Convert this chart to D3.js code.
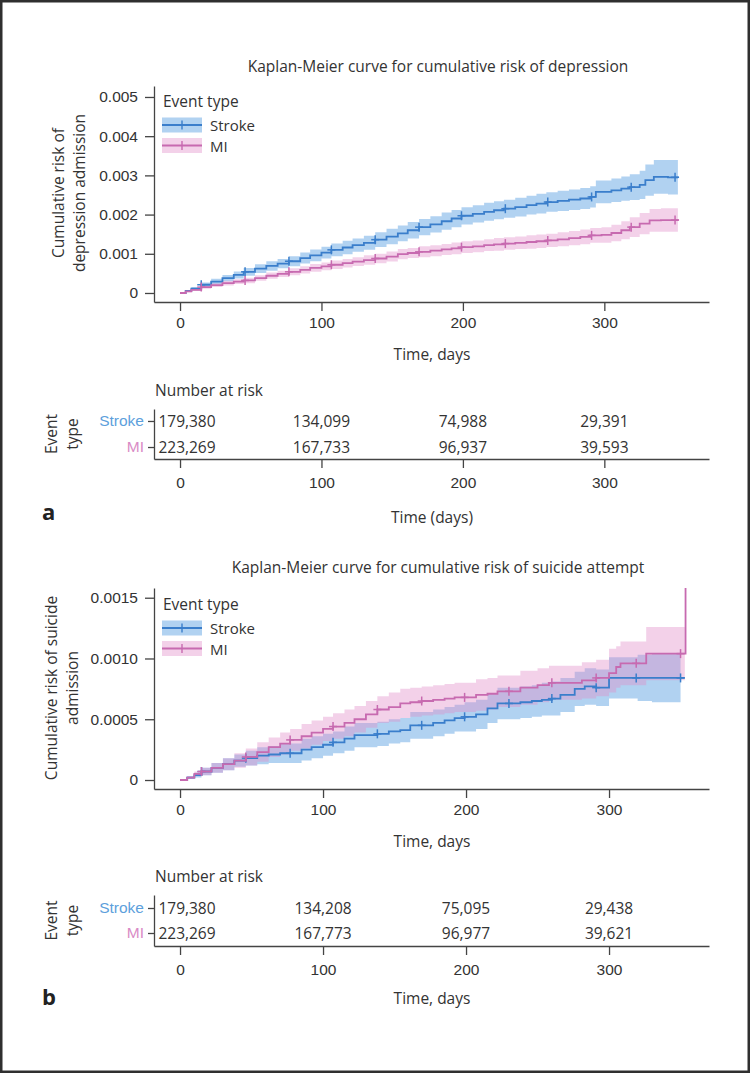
<!DOCTYPE html>
<html>
<head>
<meta charset="utf-8">
<script src="https://cdn.jsdelivr.net/npm/d3@7"></script>
<style>
  html, body { margin: 0; padding: 0; background: #fff; }
  svg { display: block; font-family: "Open Sans", "Noto Sans", sans-serif; }
</style>
</head>
<body>
<svg id="chart" width="750" height="1073"></svg>
<script>
// ---------------- DATA ----------------
// Each row: [day, cumulative risk, lower CI, upper CI]
const depStroke = [
  [0,0,0,0],[4,0.00005,0.00003,0.00007],[8,0.00011,0.00007,0.00015],[15,0.00021,0.00015,0.00027],[22,0.00029,0.00022,0.00036],
  [30,0.00038,0.00030,0.00046],[38,0.00046,0.00037,0.00055],[45,0.00054,0.00044,0.00064],[53,0.00062,0.00051,0.00073],
  [61,0.00069,0.00057,0.00081],[69,0.00075,0.00063,0.00087],[77,0.00081,0.00068,0.00094],[85,0.00089,0.00075,0.00103],
  [92,0.00096,0.00081,0.00111],[100,0.00103,0.00088,0.00118],[107,0.00110,0.00094,0.00126],[115,0.00116,0.00099,0.00133],
  [122,0.00122,0.00105,0.00139],[130,0.00128,0.00110,0.00146],[138,0.00136,0.00117,0.00155],[146,0.00144,0.00124,0.00164],
  [154,0.00152,0.00132,0.00172],[161,0.00160,0.00139,0.00181],[169,0.00168,0.00147,0.00189],[177,0.00175,0.00154,0.00196],
  [185,0.00183,0.00161,0.00205],[192,0.00190,0.00168,0.00212],[199,0.00197,0.00175,0.00219],[207,0.00202,0.00180,0.00224],
  [215,0.00207,0.00184,0.00230],[222,0.00211,0.00188,0.00234],[229,0.00215,0.00192,0.00238],[237,0.00219,0.00195,0.00243],
  [245,0.00224,0.00200,0.00248],[252,0.00228,0.00203,0.00253],[259,0.00232,0.00207,0.00257],[267,0.00235,0.00209,0.00261],
  [275,0.00238,0.00212,0.00264],[283,0.00241,0.00214,0.00268],[290,0.00245,0.00218,0.00272],[294,0.00258,0.00229,0.00287],
  [305,0.00262,0.00232,0.00292],[312,0.00266,0.00235,0.00297],[318,0.00270,0.00237,0.00303],[325,0.00276,0.00240,0.00312],
  [329,0.00288,0.00248,0.00328],[335,0.00296,0.00253,0.00339],[345,0.00295,0.00251,0.00339],[352,0.00293,0.00249,0.00337]
];
const depMI = [
  [0,0,0,0],[4,0.00004,0.00002,0.00006],[8,0.00008,0.00005,0.00011],[15,0.00015,0.00011,0.00019],[22,0.00020,0.00015,0.00025],
  [30,0.00025,0.00019,0.00031],[38,0.00029,0.00023,0.00035],[45,0.00032,0.00025,0.00039],[53,0.00038,0.00031,0.00045],
  [61,0.00044,0.00036,0.00052],[69,0.00049,0.00041,0.00057],[77,0.00054,0.00045,0.00063],[85,0.00059,0.00050,0.00068],
  [92,0.00064,0.00054,0.00074],[100,0.00068,0.00058,0.00078],[107,0.00072,0.00061,0.00083],[115,0.00076,0.00065,0.00087],
  [122,0.00080,0.00069,0.00091],[130,0.00084,0.00072,0.00096],[138,0.00088,0.00076,0.00100],[146,0.00093,0.00080,0.00106],
  [154,0.00099,0.00086,0.00112],[161,0.00102,0.00089,0.00115],[169,0.00105,0.00091,0.00119],[177,0.00108,0.00094,0.00122],
  [185,0.00111,0.00097,0.00125],[192,0.00114,0.00099,0.00129],[199,0.00117,0.00102,0.00132],[207,0.00119,0.00104,0.00134],
  [215,0.00122,0.00107,0.00137],[222,0.00124,0.00108,0.00140],[229,0.00126,0.00110,0.00142],[237,0.00128,0.00112,0.00144],
  [245,0.00130,0.00113,0.00147],[252,0.00132,0.00115,0.00149],[259,0.00134,0.00117,0.00151],[267,0.00137,0.00119,0.00155],
  [275,0.00140,0.00122,0.00158],[283,0.00143,0.00124,0.00162],[290,0.00147,0.00128,0.00166],[298,0.00148,0.00128,0.00168],
  [305,0.00153,0.00132,0.00174],[312,0.00160,0.00137,0.00183],[318,0.00168,0.00143,0.00193],[325,0.00177,0.00150,0.00204],
  [332,0.00185,0.00156,0.00214],[340,0.00186,0.00156,0.00216],[352,0.00185,0.00155,0.00215]
];
const suiStroke = [
  [0,0,0,0],[5,0.00002,0.00001,0.00003],[10,0.00004,0.00002,0.00006],[15,0.00007,0.00004,0.00010],
  [22,0.00010,0.00006,0.00014],[30,0.00013,0.00008,0.00018],[38,0.00016,0.00011,0.00021],[46,0.00018,0.00012,0.00024],
  [54,0.00020,0.00013,0.00027],[62,0.00021,0.00014,0.00028],[70,0.00022,0.00014,0.00030],[77,0.00022,0.00014,0.00030],
  [85,0.00025,0.00016,0.00034],[92,0.00027,0.00018,0.00036],[100,0.00029,0.00020,0.00038],[107,0.00031,0.00022,0.00040],
  [115,0.00034,0.00024,0.00044],[122,0.00037,0.00027,0.00047],[130,0.00037,0.00027,0.00047],[138,0.00038,0.00028,0.00048],
  [146,0.00040,0.00030,0.00050],[154,0.00041,0.00031,0.00051],[161,0.00045,0.00034,0.00056],[169,0.00045,0.00034,0.00056],
  [177,0.00047,0.00036,0.00058],[185,0.00049,0.00038,0.00060],[192,0.00051,0.00040,0.00062],[199,0.00052,0.00040,0.00064],
  [207,0.00054,0.00042,0.00066],[215,0.00059,0.00047,0.00071],[222,0.00063,0.00050,0.00076],[230,0.00063,0.00050,0.00076],
  [238,0.00064,0.00051,0.00077],[246,0.00065,0.00052,0.00078],[253,0.00066,0.00053,0.00080],[260,0.00067,0.00053,0.00081],
  [266,0.00070,0.00056,0.00084],[276,0.00075,0.00061,0.00089],[283,0.00077,0.00062,0.00092],[291,0.00076,0.00061,0.00091],
  [300,0.00084,0.00067,0.00101],[320,0.00084,0.00065,0.00103],[330,0.00084,0.00064,0.00104],[350,0.00084,0.00064,0.00104],
  [353,0.00084,0.00064,0.00104]
];
const suiMI = [
  [0,0,0,0],[5,0.00002,0.00001,0.00003],[10,0.00005,0.00003,0.00007],[15,0.00007,0.00004,0.00010],
  [22,0.00010,0.00006,0.00014],[30,0.00013,0.00008,0.00018],[38,0.00016,0.00010,0.00022],[46,0.00019,0.00012,0.00026],
  [54,0.00023,0.00015,0.00031],[62,0.00027,0.00019,0.00035],[70,0.00030,0.00021,0.00039],[77,0.00033,0.00024,0.00042],
  [85,0.00036,0.00026,0.00046],[92,0.00039,0.00029,0.00049],[100,0.00042,0.00032,0.00052],[107,0.00044,0.00034,0.00055],
  [115,0.00047,0.00036,0.00058],[122,0.00050,0.00039,0.00061],[130,0.00054,0.00043,0.00065],[138,0.00058,0.00047,0.00069],
  [146,0.00060,0.00048,0.00072],[154,0.00063,0.00051,0.00075],[161,0.00064,0.00052,0.00076],[169,0.00065,0.00053,0.00077],
  [177,0.00066,0.00054,0.00078],[185,0.00067,0.00055,0.00079],[192,0.00068,0.00056,0.00080],[199,0.00068,0.00056,0.00080],
  [207,0.00070,0.00057,0.00083],[215,0.00071,0.00058,0.00084],[222,0.00073,0.00060,0.00086],[230,0.00073,0.00060,0.00086],
  [238,0.00076,0.00062,0.00090],[250,0.00078,0.00064,0.00092],[258,0.00080,0.00066,0.00094],[268,0.00080,0.00066,0.00094],
  [281,0.00082,0.00067,0.00097],[291,0.00084,0.00069,0.00099],[300,0.00088,0.00072,0.00108],[305,0.00093,0.00076,0.00110],
  [308,0.00096,0.00078,0.00114],[326,0.00104,0.00082,0.00126],[353,0.00104,0.00082,0.00126],[353.5,0.00158,0.00082,0.00126]
];
const censorDays = [15, 46, 77, 107, 138, 169, 199, 230, 260, 291, 319, 350];

const seriesNames = ["Stroke", "MI"];
const xTicks = [0, 100, 200, 300];
const yTicksA = [0, 0.001, 0.002, 0.003, 0.004, 0.005];
const yTicksB = [0, 0.0005, 0.0010, 0.0015];

const riskTimes = [0, 100, 200, 300];
const riskA_Stroke = [179380, 134099, 74988, 29391];
const riskA_MI = [223269, 167733, 96937, 39593];
const riskB_Stroke = [179380, 134208, 75095, 29438];
const riskB_MI = [223269, 167773, 96977, 39621];

// ---------------- STYLE ----------------
const TXT = "#333";
const AX = "#444";
const FS = 15.5;
const LEG_FS = 15;
const lineCol = { Stroke: "#3a7ecb", MI: "#c76ab0" };
const bandCol = { Stroke: "#3d8fdc", MI: "#e08cc8" };
const labelCol = { Stroke: "#5d9fdc", MI: "#d98bc6" };
const BAND_OP = 0.4;

const svg = d3.select("#chart");
svg.append("rect").attr("x", 0).attr("y", 0).attr("width", 750).attr("height", 1073).attr("fill", "#fff");
svg.append("rect").attr("x", 0).attr("y", 0).attr("width", 750).attr("height", 1073)
  .attr("fill", "none").attr("stroke", "#2f2f2f").attr("stroke-width", 5);

const fmtN = d3.format(",");

function styleAxis(g) {
  g.select(".domain").attr("stroke", AX).attr("stroke-width", 1.3);
  g.selectAll(".tick line").attr("stroke", AX).attr("stroke-width", 1.3);
  g.selectAll(".tick text").attr("fill", TXT).attr("font-size", FS).attr("font-family", null);
}

function stepValue(data, day) {
  let v = 0;
  for (const r of data) { if (r[0] <= day) v = r[1]; else break; }
  return v;
}

function drawKM(cfg) {
  const x = d3.scaleLinear().domain(cfg.xDom).range([154, 709]);
  const y = d3.scaleLinear().domain(cfg.yDom).range([cfg.yBottom, cfg.yTop]);
  const g = svg.append("g");

  g.append("text").attr("x", 438).attr("y", cfg.titleY).attr("text-anchor", "middle")
    .attr("font-size", FS).attr("fill", TXT).text(cfg.title);

  const area = d3.area().curve(d3.curveStepAfter)
    .x(d => x(d[0])).y0(d => y(d[2])).y1(d => y(d[3]));
  const line = d3.line().curve(d3.curveStepAfter).x(d => x(d[0])).y(d => y(d[1]));
  cfg.series.forEach(s => {
    g.append("path").datum(s.data.filter(d => d[0] <= s.bandEnd)).attr("d", area)
      .attr("fill", bandCol[s.name]).attr("fill-opacity", BAND_OP).attr("stroke", "none");
  });
  cfg.series.forEach(s => {
    g.append("path").datum(s.data).attr("d", line)
      .attr("fill", "none").attr("stroke", lineCol[s.name]).attr("stroke-width", 1.8);
    const cg = g.append("g");
    censorDays.forEach(cd => {
      const cx = x(cd), cy = y(stepValue(s.data, cd));
      cg.append("line").attr("x1", cx).attr("x2", cx).attr("y1", cy - 4.5).attr("y2", cy + 4.5)
        .attr("stroke", lineCol[s.name]).attr("stroke-width", 1.5);
      cg.append("line").attr("x1", cx - 4).attr("x2", cx + 4).attr("y1", cy).attr("y2", cy)
        .attr("stroke", lineCol[s.name]).attr("stroke-width", 1.5);
    });
  });

  const yAxis = d3.axisLeft(y).tickValues(cfg.yTicks).tickFormat(cfg.yFmt)
    .tickSize(9).tickSizeOuter(0).tickPadding(7);
  g.append("g").attr("transform", "translate(154,0)").call(yAxis).call(styleAxis);
  const xAxis = d3.axisBottom(x).tickValues(xTicks).tickSize(9).tickSizeOuter(0).tickPadding(6);
  g.append("g").attr("transform", `translate(0,${cfg.yBottom})`).call(xAxis).call(styleAxis);

  g.append("text").attr("x", 432).attr("y", cfg.xLabelY).attr("text-anchor", "middle")
    .attr("font-size", FS).attr("fill", TXT).text("Time, days");
  cfg.yLabel.forEach((t, i) => {
    g.append("text").attr("transform", `translate(${cfg.yLabelX[i]},${cfg.yLabelMid}) rotate(-90)`)
      .attr("text-anchor", "middle").attr("dominant-baseline", "central")
      .attr("font-size", FS).attr("fill", TXT).text(t);
  });

  const lg = g.append("g");
  lg.append("text").attr("x", 163).attr("y", cfg.legY).attr("dominant-baseline", "central")
    .attr("font-size", FS).attr("fill", TXT).text("Event type");
  seriesNames.forEach((n, i) => {
    const ry = cfg.legY + 24 + i * 20.5;
    lg.append("rect").attr("x", 162).attr("y", ry - 7.5).attr("width", 40).attr("height", 15)
      .attr("fill", bandCol[n]).attr("fill-opacity", BAND_OP);
    lg.append("line").attr("x1", 162).attr("x2", 202).attr("y1", ry).attr("y2", ry)
      .attr("stroke", lineCol[n]).attr("stroke-width", 1.8);
    lg.append("line").attr("x1", 182).attr("x2", 182).attr("y1", ry - 4.5).attr("y2", ry + 4.5)
      .attr("stroke", lineCol[n]).attr("stroke-width", 1.4);
    lg.append("text").attr("x", 210).attr("y", ry).attr("dominant-baseline", "central")
      .attr("font-size", LEG_FS).attr("fill", TXT).text(n);
  });
}

function drawRisk(cfg) {
  const x = d3.scaleLinear().domain(cfg.xDom).range([154, 709]);
  const r = d3.scalePoint().domain(seriesNames).range([cfg.top, cfg.bottom]).padding(cfg.pad);
  const g = svg.append("g");
  g.append("text").attr("x", 155).attr("y", cfg.headY).attr("dominant-baseline", "central")
    .attr("font-size", FS).attr("fill", TXT).text("Number at risk");

  const ya = d3.axisLeft(r).tickSize(6).tickSizeOuter(0).tickPadding(4);
  const yg = g.append("g").attr("transform", "translate(154,0)").call(ya).call(styleAxis);
  yg.selectAll(".tick text").attr("fill", d => labelCol[d]);

  const xa = d3.axisBottom(x).tickValues(xTicks).tickSize(9).tickSizeOuter(0).tickPadding(9);
  g.append("g").attr("transform", `translate(0,${cfg.bottom})`).call(xa).call(styleAxis);

  cfg.rows.forEach(row => {
    riskTimes.forEach((t, i) => {
      const cx = Math.max(x(t), 187);
      g.append("text").attr("x", cx).attr("y", r(row.name)).attr("text-anchor", "middle")
        .attr("dominant-baseline", "central").attr("font-size", FS).attr("fill", TXT)
        .text(fmtN(row.values[i]));
    });
  });

  ["Event", "type"].forEach((t, i) => {
    g.append("text").attr("transform", `translate(${[51, 72][i]},${(r("Stroke") + r("MI")) / 2}) rotate(-90)`)
      .attr("text-anchor", "middle").attr("dominant-baseline", "central")
      .attr("font-size", FS).attr("fill", TXT).text(t);
  });

  g.append("text").attr("x", 432).attr("y", cfg.xLabelY).attr("text-anchor", "middle")
    .attr("dominant-baseline", "central").attr("font-size", FS).attr("fill", TXT).text(cfg.xLabel);
  g.append("text").attr("x", 42).attr("y", cfg.letterY).attr("font-size", 22).attr("font-weight", "bold")
    .attr("fill", "#222").text(cfg.letter);
}

// ---------------- PANEL A ----------------
drawKM({
  title: "Kaplan-Meier curve for cumulative risk of depression",
  titleY: 72,
  xDom: [-18.4, 374],
  yDom: [-0.00023, 0.00528], yBottom: 302, yTop: 86,
  yTicks: yTicksA, yFmt: d => d === 0 ? "0" : d3.format(".3f")(d),
  xLabelY: 360,
  yLabel: ["Cumulative risk of", "depression admission"], yLabelX: [58, 79], yLabelMid: 193,
  legY: 101,
  series: [{ name: "Stroke", data: depStroke, bandEnd: 999 }, { name: "MI", data: depMI, bandEnd: 999 }]
});
drawRisk({
  xDom: [-18.4, 374], top: 409, bottom: 459, pad: 0.46, headY: 390,
  rows: [{ name: "Stroke", values: riskA_Stroke }, { name: "MI", values: riskA_MI }],
  xLabel: "Time (days)", xLabelY: 517, letter: "a", letterY: 520
});

// ---------------- PANEL B ----------------
drawKM({
  title: "Kaplan-Meier curve for cumulative risk of suicide attempt",
  titleY: 573,
  xDom: [-18.2, 369.9],
  yDom: [-0.000074, 0.00158], yBottom: 789, yTop: 588,
  yTicks: yTicksB, yFmt: d => d === 0 ? "0" : d3.format(".4f")(d),
  xLabelY: 847,
  yLabel: ["Cumulative risk of suicide", "admission"], yLabelX: [51, 72], yLabelMid: 688,
  legY: 604,
  series: [{ name: "Stroke", data: suiStroke, bandEnd: 350 }, { name: "MI", data: suiMI, bandEnd: 353.2 }]
});
drawRisk({
  xDom: [-18.2, 369.9], top: 895, bottom: 946, pad: 0.52, headY: 876,
  rows: [{ name: "Stroke", values: riskB_Stroke }, { name: "MI", values: riskB_MI }],
  xLabel: "Time, days", xLabelY: 998, letter: "b", letterY: 1005
});
</script>
</body>
</html>
